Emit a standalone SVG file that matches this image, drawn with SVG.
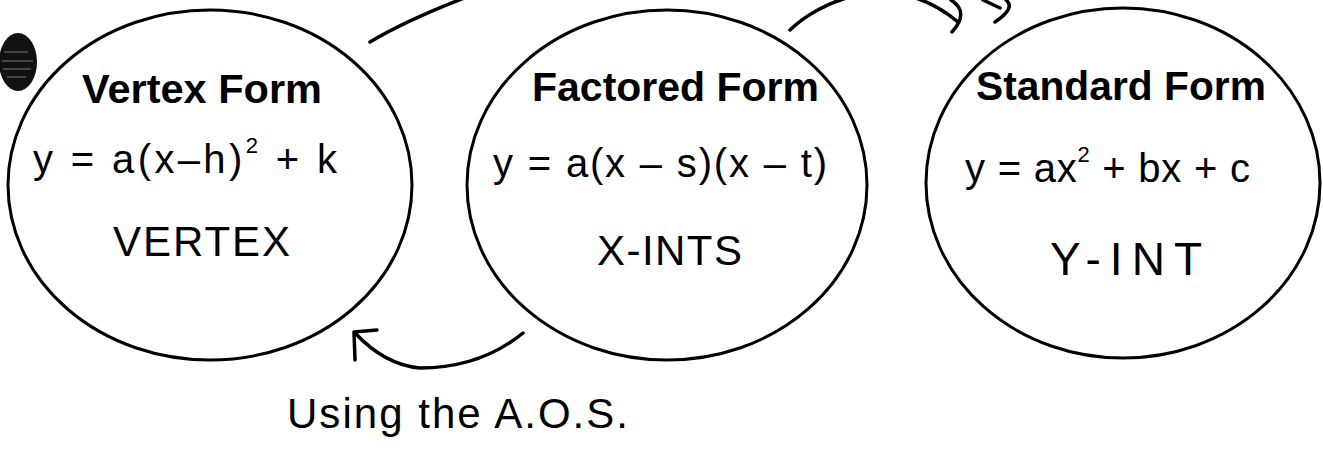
<svg xmlns="http://www.w3.org/2000/svg" width="1323" height="456" viewBox="0 0 1323 456">
<style>
.node{fill:none;stroke:#000;stroke-width:3}
.title{font-family:"Liberation Sans",Arial,sans-serif;font-weight:bold;font-size:41px;fill:#000}
.hand{font-family:"Liberation Sans",Arial,sans-serif;font-weight:normal;fill:#000}
.conn{fill:none;stroke:#000;stroke-width:3.5;stroke-linecap:round;stroke-linejoin:round}
</style>
<rect width="1323" height="456" fill="#fff"/>
<g id="bullet">
<ellipse cx="18" cy="62" rx="19" ry="29" fill="#111"/>
<path d="M4,52 H28 M2,61 H33 M3,69 H31 M7,77 H26" stroke="#555" stroke-width="1.5" fill="none"/>
</g>
<g id="vertex">
<ellipse class="node" cx="210" cy="185" rx="202" ry="175"/>
<text class="title" x="82" y="103" textLength="240" lengthAdjust="spacingAndGlyphs">Vertex Form</text>
<text class="hand" x="33" y="173" font-size="40" textLength="304" lengthAdjust="spacing">y = a(x–h)<tspan dy="-20" font-size="22">2</tspan><tspan dy="20"> + k</tspan></text>
<text class="hand" x="113" y="256" font-size="42" textLength="177" lengthAdjust="spacing">VERTEX</text>
</g>
<g id="factored">
<ellipse class="node" cx="667" cy="185" rx="200" ry="175"/>
<text class="title" x="532" y="101" textLength="287" lengthAdjust="spacingAndGlyphs">Factored Form</text>
<text class="hand" x="493" y="177" font-size="40" textLength="334" lengthAdjust="spacing">y = a(x – s)(x – t)</text>
<text class="hand" x="597" y="265" font-size="42" textLength="145" lengthAdjust="spacing">X-INTS</text>
</g>
<g id="standard">
<ellipse class="node" cx="1123" cy="183" rx="197" ry="175"/>
<text class="title" x="976" y="100" textLength="290" lengthAdjust="spacingAndGlyphs">Standard Form</text>
<text class="hand" x="965" y="182" font-size="40" textLength="285" lengthAdjust="spacing">y = ax<tspan dy="-20" font-size="22">2</tspan><tspan dy="20"> + bx + c</tspan></text>
<text class="hand" x="1050" y="275" font-size="46" textLength="152" lengthAdjust="spacing">Y-INT</text>
</g>
<g id="connectors">
<path class="conn" d="M370,42 Q410,18 480,-8"/>
<path class="conn" d="M790,30 C815,5 890,-35 958,22"/>
<path class="conn" d="M951,0 Q970,12 952,32"/>
<path class="conn" d="M983,0 L1000,8"/>
<path class="conn" d="M1006,0 Q1016,8 995,22"/>
<path class="conn" d="M523,333 Q480,368 420,368 Q385,365 355,333"/>
<path class="conn" d="M377,330 L354,332 L355,360"/>
</g>
<text class="hand" x="287" y="428" font-size="42" textLength="341" lengthAdjust="spacing">Using the A.O.S.</text>
</svg>
